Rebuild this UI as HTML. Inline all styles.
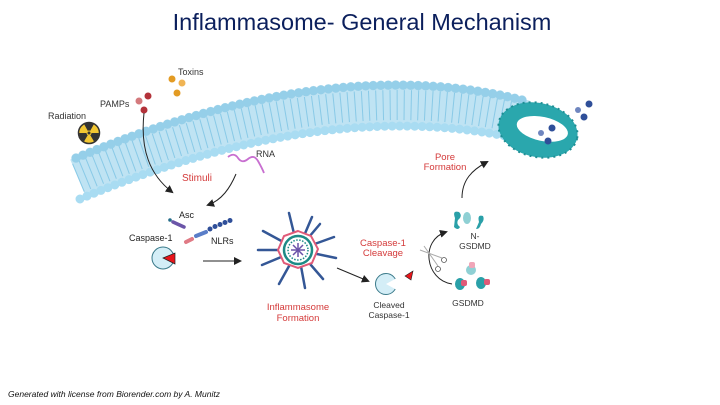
<!DOCTYPE html>
<html><head><meta charset="utf-8"><style>
html,body{margin:0;padding:0;background:#fff;width:720px;height:405px;overflow:hidden}
svg{display:block}
text{font-family:"Liberation Sans",Arial,sans-serif}
</style></head><body>
<svg width="720" height="405" viewBox="0 0 720 405" xmlns="http://www.w3.org/2000/svg">
<defs>
<marker id="ah" markerWidth="8" markerHeight="8" refX="6" refY="4" orient="auto" markerUnits="userSpaceOnUse"><path d="M0,0 L8,4 L0,8 z" fill="#222"/></marker>
</defs>
<text x="362" y="30" font-size="23.5" fill="#0b1f5c" text-anchor="middle">Inflammasome- General Mechanism</text>

<!-- membrane -->
<g fill="none">
<path d="M78,178 Q330,72 525,120" stroke="#bfe3f3" stroke-width="40"/>
<path d="M78,178 Q330,72 525,120" stroke="#7cc3e4" stroke-width="30" stroke-dasharray="1 6" opacity="0.8"/>
<path d="M76,158 Q330,52 522,100" stroke="#a9dcf2" stroke-width="9" stroke-dasharray="0 7.5" stroke-linecap="round"/>
<path d="M76,158 Q330,52 522,100" stroke="#6fb7da" stroke-width="9.5" stroke-dasharray="0 7.5" stroke-linecap="round" opacity="0.35"/>
<path d="M80,199 Q332,93 528,141" stroke="#a9dcf2" stroke-width="9" stroke-dasharray="0 7.5" stroke-linecap="round"/>
</g>
<!-- pore -->
<g transform="rotate(12 538 130)">
<ellipse cx="538" cy="130" rx="40" ry="27" fill="#2aa7ad"/>
<ellipse cx="538" cy="130" rx="40" ry="27" fill="none" stroke="#1e8e94" stroke-width="2" stroke-dasharray="2 4"/>
<ellipse cx="542" cy="128" rx="26" ry="12" fill="#fff"/>
</g>
<circle cx="552" cy="128" r="3.5" fill="#2f4f99"/>
<circle cx="548" cy="141" r="3.5" fill="#2f4f99"/>
<circle cx="541" cy="133" r="3" fill="#6f86bf"/>
<circle cx="589" cy="104" r="3.5" fill="#2f4f99"/>
<circle cx="584" cy="117" r="3.5" fill="#2f4f99"/>
<circle cx="578" cy="110" r="3" fill="#6f86bf"/>

<!-- labels top-left -->
<text x="178" y="75" font-size="9" fill="#333">Toxins</text>
<circle cx="172" cy="79" r="3.5" fill="#e39b23"/><circle cx="182" cy="83" r="3.5" fill="#f0b454"/><circle cx="177" cy="93" r="3.5" fill="#e39b23"/>
<text x="100" y="107" font-size="9" fill="#333">PAMPs</text>
<circle cx="148" cy="96" r="3.5" fill="#b3323a"/><circle cx="139" cy="101" r="3.5" fill="#d47a7d"/><circle cx="144" cy="110" r="3.5" fill="#b3323a"/>
<text x="48" y="119" font-size="9" fill="#333">Radiation</text>
<circle cx="89" cy="133" r="10.5" fill="#f2c632" stroke="#333" stroke-width="1.5"/>
<path d="M89,133 L84,124 A10,10 0 0 1 94,124 Z M89,133 L99,133 A10,10 0 0 1 94,141.5 Z M89,133 L84,141.5 A10,10 0 0 1 79,133 Z" fill="#333"/>
<circle cx="89" cy="133" r="2.5" fill="#f2c632"/><circle cx="89" cy="133" r="1.5" fill="#333"/>
<text x="256" y="157" font-size="9" fill="#333">RNA</text>
<path d="M228,157 q6,-5 10,1 t10,1 t10,2 t6,12" fill="none" stroke="#c86fd0" stroke-width="1.8"/>
<text x="182" y="181" font-size="10" fill="#d43a3a">Stimuli</text>
<path d="M144,113 C140,150 150,175 172,192" fill="none" stroke="#222" stroke-width="1" marker-end="url(#ah)"/>
<path d="M236,174 C230,188 222,200 208,205" fill="none" stroke="#222" stroke-width="1" marker-end="url(#ah)"/>

<!-- caspase / asc / NLRs -->
<text x="179" y="218" font-size="9" fill="#222">Asc</text>
<circle cx="170" cy="220" r="1.8" fill="#256d8a"/>
<line x1="173" y1="222" x2="184" y2="227" stroke="#6b55a8" stroke-width="3.5" stroke-linecap="round"/>
<text x="129" y="241" font-size="9" fill="#222">Caspase-1</text>
<line x1="186" y1="242" x2="192" y2="239" stroke="#e07a85" stroke-width="4" stroke-linecap="round"/>
<line x1="196" y1="236" x2="206" y2="232" stroke="#5a7ec8" stroke-width="4" stroke-linecap="round"/>
<g fill="#2f4f99"><circle cx="210" cy="229" r="2.5"/><circle cx="215" cy="226.5" r="2.5"/><circle cx="220" cy="224.5" r="2.5"/><circle cx="225" cy="222.5" r="2.5"/><circle cx="230" cy="220.5" r="2.5"/></g>
<text x="211" y="244" font-size="9" fill="#222">NLRs</text>
<circle cx="163" cy="258" r="11" fill="#d4eef7" stroke="#3a7a8a" stroke-width="1"/>
<path d="M163,258 L175,253 L175,264 Z" fill="#e8151b" stroke="#222" stroke-width="0.7"/>
<line x1="203" y1="261" x2="240" y2="261" stroke="#222" stroke-width="1" marker-end="url(#ah)"/>

<!-- inflammasome -->
<g stroke="#345796" stroke-width="2.5" stroke-linecap="round">
<line x1="298" y1="250" x2="312" y2="217"/><line x1="298" y1="250" x2="289" y2="213"/><line x1="298" y1="250" x2="263" y2="231"/><line x1="298" y1="250" x2="258" y2="250"/><line x1="298" y1="250" x2="262" y2="265"/>
<line x1="298" y1="250" x2="279" y2="284"/><line x1="298" y1="250" x2="305" y2="288"/><line x1="298" y1="250" x2="323" y2="279"/><line x1="298" y1="250" x2="336" y2="258"/><line x1="298" y1="250" x2="334" y2="237"/><line x1="298" y1="250" x2="320" y2="224"/>
</g>
<polygon points="298,231 311,236 318,249 312,263 298,268 284,263 278,250 284,236" fill="#fff" stroke="#e05a78" stroke-width="2"/>
<circle cx="298" cy="250" r="14" fill="#fff" stroke="#1d8a86" stroke-width="2.5"/>
<circle cx="298" cy="250" r="10" fill="#fff" stroke="#1d8a86" stroke-width="1.5" stroke-dasharray="1.5 1.5"/>
<g stroke="#6a52a8" stroke-width="1.5"><line x1="291" y1="250" x2="305" y2="250"/><line x1="298" y1="243" x2="298" y2="257"/><line x1="293" y1="245" x2="303" y2="255"/><line x1="303" y1="245" x2="293" y2="255"/></g>
<text x="298" y="310" font-size="9.5" fill="#d43a3a" text-anchor="middle">Inflammasome</text>
<text x="298" y="321" font-size="9.5" fill="#d43a3a" text-anchor="middle">Formation</text>
<line x1="337" y1="268" x2="368" y2="281" stroke="#222" stroke-width="1" marker-end="url(#ah)"/>

<!-- cleaved caspase -->
<circle cx="386" cy="284" r="10.5" fill="#d4eef7" stroke="#3a7a8a" stroke-width="1"/>
<path d="M386,284 L397,278 L397,290 Z" fill="#fff"/>
<path d="M405,276 L413,271 L411,280 Z" fill="#e8151b" stroke="#222" stroke-width="0.6"/>
<text x="389" y="308" font-size="8.5" fill="#333" text-anchor="middle">Cleaved</text>
<text x="389" y="318" font-size="8.5" fill="#333" text-anchor="middle">Caspase-1</text>
<text x="383" y="246" font-size="9.5" fill="#d43a3a" text-anchor="middle">Caspase-1</text>
<text x="383" y="256" font-size="9.5" fill="#d43a3a" text-anchor="middle">Cleavage</text>

<!-- cycle arrow & scissors -->
<path d="M452,284 C425,280 420,240 446,232" fill="none" stroke="#222" stroke-width="1" marker-end="url(#ah)"/>
<line x1="420" y1="250" x2="442" y2="258" stroke="#aaa" stroke-width="1"/>
<line x1="424" y1="246" x2="438" y2="266" stroke="#aaa" stroke-width="1"/>
<circle cx="444" cy="260" r="2.5" fill="#fff" stroke="#555" stroke-width="0.8"/>
<circle cx="438" cy="269" r="2.5" fill="#fff" stroke="#555" stroke-width="0.8"/>

<!-- GSDMD -->
<g fill="#2aa0a8">
<path d="M455,218 q-3,-8 4,-6 q4,4 -1,8 q-2,4 2,7 q-2,4 -6,0 z"/>
<ellipse cx="467" cy="218" rx="4" ry="6" fill="#8fd0d4"/>
<path d="M479,222 q-2,-8 4,-6 q2,4 -2,8 q-1,5 -5,5 z"/>
<ellipse cx="460" cy="284" rx="5" ry="6"/>
<ellipse cx="481" cy="283" rx="5" ry="6"/>
<ellipse cx="471" cy="270" rx="5" ry="5" fill="#8fd0d4"/>
</g>
<g fill="#e05a78"><rect x="461" y="280" width="6" height="6" rx="2"/><rect x="484" y="279" width="6" height="6" rx="2"/><rect x="469" y="262" width="6" height="6" rx="2" fill="#f0a6b8"/></g>
<text x="475" y="239" font-size="8.5" fill="#333" text-anchor="middle">N-</text>
<text x="475" y="249" font-size="8.5" fill="#333" text-anchor="middle">GSDMD</text>
<text x="468" y="306" font-size="8.5" fill="#333" text-anchor="middle">GSDMD</text>
<text x="445" y="160" font-size="9.5" fill="#d43a3a" text-anchor="middle">Pore</text>
<text x="445" y="170" font-size="9.5" fill="#d43a3a" text-anchor="middle">Formation</text>
<path d="M462,198 C462,180 472,170 487,162" fill="none" stroke="#222" stroke-width="1" marker-end="url(#ah)"/>

<text x="8" y="397" font-size="8.5" font-style="italic" fill="#111">Generated with license from Biorender.com by A. Munitz</text>
</svg>
</body></html>
